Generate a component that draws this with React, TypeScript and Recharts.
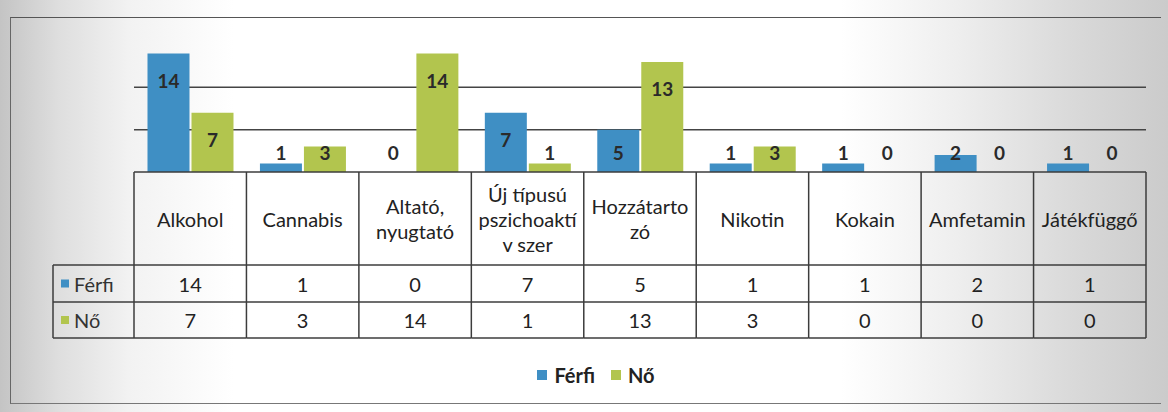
import React from 'react';
import { BarChart, Bar, XAxis, YAxis, CartesianGrid, LabelList, Legend } from 'recharts';

const categories = [
  'Alkohol',
  'Cannabis',
  'Altató,\nnyugtató',
  'Új típusú\npszichoaktí\nv szer',
  'Hozzátarto\nzó',
  'Nikotin',
  'Kokain',
  'Amfetamin',
  'Játékfüggő',
];
const ferfiValues = [14, 1, 0, 7, 5, 1, 1, 2, 1];
const noValues = [7, 3, 14, 1, 13, 3, 0, 0, 0];
const seriesNames = ['Férfi', 'Nő'];
const yTicks = [5, 10];
const yDomain = [0, 15];

const data = categories.map((c, i) => ({ name: c, ferfi: ferfiValues[i], no: noValues[i] }));

const W = 1168;
const H = 412;
const M = { top: 45, right: 22, bottom: 22, left: 134 };
const COL_W = (W - M.left - M.right) / categories.length;
const BLUE = '#3f8fc4';
const GREEN = '#b2c54e';
const LINE = '#3c3c3c';
const FONT = 'Lato, "Open Sans", sans-serif';
const HEADER_H = 93;
const ROW1 = 130;
const ROW2 = 166;

const TableTick = (props: any) => {
  const { x, y, payload } = props;
  let i = payload && typeof payload.index === 'number' ? payload.index : props.index;
  if (typeof i !== 'number') i = categories.indexOf(payload.value);
  const half = COL_W / 2;
  const left = x - half;
  const right = x + half;
  const lines = String(payload.value).split('\n');
  const headerMid = y + HEADER_H / 2;
  const lh = 25;
  const startY = headerMid - ((lines.length - 1) * lh) / 2;
  const r1 = y + (HEADER_H + ROW1) / 2;
  const r2 = y + (ROW1 + ROW2) / 2;
  const keyLeft = 53;
  return (
    <g>
      {i === 0 && <line x1={left} y1={y} x2={left} y2={y + ROW2} stroke={LINE} strokeWidth={1.5} />}
      <line x1={right} y1={y} x2={right} y2={y + ROW2} stroke={LINE} strokeWidth={1.5} />
      <line x1={left} y1={y + HEADER_H} x2={right} y2={y + HEADER_H} stroke={LINE} strokeWidth={1.5} />
      <line x1={left} y1={y + ROW1} x2={right} y2={y + ROW1} stroke={LINE} strokeWidth={1.5} />
      <line x1={left} y1={y + ROW2} x2={right} y2={y + ROW2} stroke={LINE} strokeWidth={1.5} />
      {lines.map((t, k) => (
        <text key={k} x={x} y={startY + k * lh} textAnchor="middle" dominantBaseline="central"
          fontFamily={FONT} fontSize={20} fill="#222">{t}</text>
      ))}
      <text x={x} y={r1} textAnchor="middle" dominantBaseline="central" fontFamily={FONT} fontSize={20} fill="#222">{ferfiValues[i]}</text>
      <text x={x} y={r2} textAnchor="middle" dominantBaseline="central" fontFamily={FONT} fontSize={20} fill="#222">{noValues[i]}</text>
      {i === 0 && (
        <g>
          <line x1={keyLeft} y1={y + HEADER_H} x2={left} y2={y + HEADER_H} stroke={LINE} strokeWidth={1.5} />
          <line x1={keyLeft} y1={y + ROW1} x2={left} y2={y + ROW1} stroke={LINE} strokeWidth={1.5} />
          <line x1={keyLeft} y1={y + ROW2} x2={left} y2={y + ROW2} stroke={LINE} strokeWidth={1.5} />
          <line x1={keyLeft} y1={y + HEADER_H} x2={keyLeft} y2={y + ROW2} stroke={LINE} strokeWidth={1.5} />
          <rect x={61} y={r1 - 4} width={8} height={8} fill={BLUE} />
          <text x={74} y={r1} dominantBaseline="central" fontFamily={FONT} fontSize={20} fill="#333">{seriesNames[0]}</text>
          <rect x={61} y={r2 - 4} width={8} height={8} fill={GREEN} />
          <text x={74} y={r2} dominantBaseline="central" fontFamily={FONT} fontSize={20} fill="#333">{seriesNames[1]}</text>
        </g>
      )}
    </g>
  );
};

const BarValueLabel = (props: any) => {
  const vb = props.viewBox && typeof props.viewBox.x === 'number' ? props.viewBox : props;
  const { x, y, width } = vb;
  const height = Math.max(0, vb.height);
  const base = y + height;
  const cy = Math.min(y + 27, base - 20);
  return (
    <text x={x + width / 2} y={cy} textAnchor="middle" dominantBaseline="central"
      fontFamily={FONT} fontWeight={700} fontSize={19} fill="#2a2a2a">{props.value}</text>
  );
};

const LegendContent = (props: any) => {
  const items = props.payload || [];
  return (
    <div style={{ display: 'flex', justifyContent: 'center', alignItems: 'center', height: 30, paddingLeft: 40, fontFamily: FONT }}>
      {items.map((it: any, k: number) => (
        <div key={k} style={{ display: 'flex', alignItems: 'center', marginRight: 16 }}>
          <span style={{ display: 'inline-block', width: 10, height: 10, background: it.color, marginRight: 7 }} />
          <span style={{ fontSize: 20, fontWeight: 700, color: '#222' }}>{it.value}</span>
        </div>
      ))}
    </div>
  );
};

const gridGen = (p: any) => {
  const s = p && p.yAxis && p.yAxis.scale;
  if (typeof s === 'function') return yTicks.map((t) => s(t));
  const off = (p && p.offset) || {};
  const top = typeof off.top === 'number' ? off.top : M.top;
  const h = typeof off.height === 'number' ? off.height : 127;
  return yTicks.map((t) => top + h * (1 - (t - yDomain[0]) / (yDomain[1] - yDomain[0])));
};

export default function App() {
  return (
    <div style={{
      position: 'absolute', left: 0, top: 0, width: W, height: H, overflow: 'hidden',
      background: 'linear-gradient(to right, #c4c4c4 0%, #dedede 5%, #f2f2f2 11%, #ffffff 20%, #ffffff 72%, #eeeeee 82%, #d9d9d9 92%, #cbcbcb 100%)',
    }}>
      <div style={{ position: 'absolute', left: 10, top: 17, width: 1150, height: 385, borderLeft: '1.5px solid #666', borderTop: '1.5px solid #555', borderBottom: '1.5px solid #777' }} />
      <div style={{ position: 'absolute', left: 0, top: 0 }}>
        <BarChart width={W} height={H} data={data} margin={M} barCategoryGap="12%" barGap={2}>
          <CartesianGrid vertical={false} stroke="#444" strokeWidth={1.5} horizontalCoordinatesGenerator={gridGen} />
          <YAxis hide domain={yDomain} ticks={yTicks} />
          <XAxis dataKey="name" interval={0} height={188} tickSize={0} tickMargin={0}
            axisLine={{ stroke: LINE, strokeWidth: 1.5 }} tickLine={false} tick={<TableTick />} />
          <Legend verticalAlign="bottom" wrapperStyle={{ left: 0, width: W, height: 30 }} content={<LegendContent />} />
          <Bar dataKey="ferfi" name={seriesNames[0]} fill={BLUE} minPointSize={0.01} isAnimationActive={false}>
            <LabelList dataKey="ferfi" content={<BarValueLabel />} />
          </Bar>
          <Bar dataKey="no" name={seriesNames[1]} fill={GREEN} minPointSize={0.01} isAnimationActive={false}>
            <LabelList dataKey="no" content={<BarValueLabel />} />
          </Bar>
        </BarChart>
      </div>
    </div>
  );
}
